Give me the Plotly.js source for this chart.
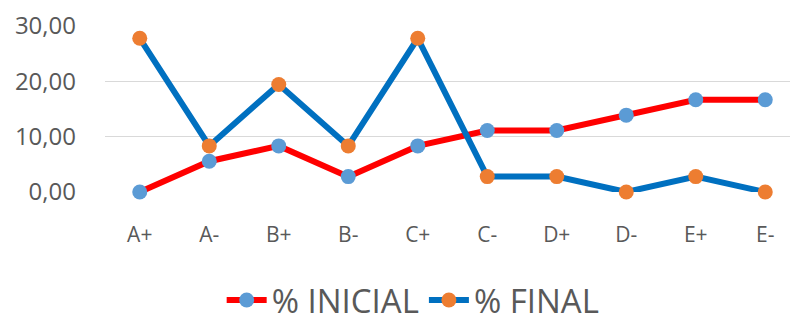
<!DOCTYPE html>
<html>
<head>
<meta charset="utf-8">
<script src="https://cdn.plot.ly/plotly-3.0.1.min.js"></script>
<style>html,body{margin:0;padding:0;background:#fff;}#chart{width:790px;height:322px;}</style>
</head>
<body>
<div id="chart"></div>
<script>
var categories = ["A+", "A-", "B+", "B-", "C+", "C-", "D+", "D-", "E+", "E-"];
var inicial = [0, 5.56, 8.33, 2.78, 8.33, 11.11, 11.11, 13.89, 16.67, 16.67];
var final = [27.78, 8.33, 19.44, 8.33, 27.78, 2.78, 2.78, 0, 2.78, 0];
var yTickVals = [0, 10, 20, 30];
var yTickText = ["0,00", "10,00", "20,00", "30,00"];

var traces = [
  {x: categories, y: inicial, name: "% INICIAL", type: "scatter", mode: "lines+markers",
   line: {color: "#ff0000", width: 6}, marker: {color: "#5b9bd5", size: 15}, cliponaxis: false},
  {x: categories, y: final, name: "% FINAL", type: "scatter", mode: "lines+markers",
   line: {color: "#0070c0", width: 6}, marker: {color: "#ed7d31", size: 15}, cliponaxis: false}
];

var layout = {
  width: 790, height: 322,
  margin: {l: 105, r: 0, t: 26, b: 130, autoexpand: false},
  paper_bgcolor: "#ffffff", plot_bgcolor: "#ffffff",
  font: {family: "Open Sans, sans-serif", color: "#595959"},
  showlegend: true,
  legend: {orientation: "h", xref: "container", yref: "container",
           x: 0.523, xanchor: "center", y: 0.068, yanchor: "middle",
           font: {size: 33, color: "#595959"}, itemwidth: 40, traceorder: "normal"},
  xaxis: {type: "category", range: [-0.5, 9.356], showgrid: false, zeroline: false,
          showline: false, ticks: "", tickfont: {size: 21, color: "#595959"},
          ticklabelstandoff: 28, fixedrange: true},
  yaxis: {range: [0, 30], tickvals: yTickVals, ticktext: yTickText, showgrid: true,
          gridcolor: "#d9d9d9", gridwidth: 1, zeroline: false, showline: false,
          ticks: "", tickfont: {size: 24, color: "#595959"}, ticklabelstandoff: 28, fixedrange: true}
};

Plotly.newPlot("chart", traces, layout, {displayModeBar: false, staticPlot: true});
</script>
</body>
</html>
